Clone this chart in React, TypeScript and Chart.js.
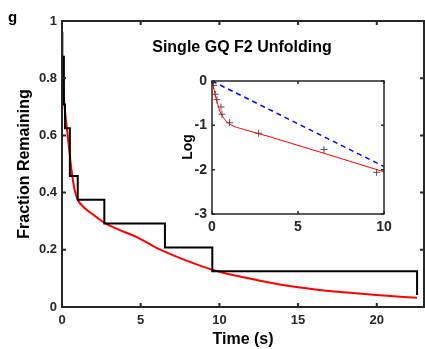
import React, { useEffect, useRef } from "react";
import { Chart, registerables } from "chart.js";

Chart.register(...registerables);

const FONT = "'Liberation Sans', Arial, Helvetica, sans-serif";
const INK = "#262626";

// ---------- main plot data ----------
const X_TICKS = [0, 5, 10, 15, 20];
const Y_TICKS = [0, 0.2, 0.4, 0.6, 0.8, 1];
const STEP_TIMES = [0, 0.02, 0.12, 0.19, 0.5, 1.0, 2.69, 6.54, 9.55, 22.56];
const STEP_VALUES = [0.958, 0.875, 0.708, 0.625, 0.458, 0.375, 0.292, 0.208, 0.125, 0.042];
const FIT_TIMES = [0, 0.05, 0.1, 0.2, 0.3, 0.44, 0.6, 0.8, 1.0, 1.4, 2.0, 2.7, 3.5, 4.85, 6.0, 7.2, 8.5, 10, 12.5, 15, 17.5, 20, 22.56];
const FIT_VALUES = [0.872, 0.81, 0.75, 0.68, 0.63, 0.56, 0.48, 0.41, 0.375, 0.348, 0.322, 0.294, 0.273, 0.242, 0.207, 0.178, 0.15, 0.123, 0.093, 0.069, 0.053, 0.042, 0.032];

// ---------- inset data ----------
const INSET_X_TICKS = [0, 5, 10];
const INSET_Y_TICKS = [0, -1, -2, -3];
const MARK_TIMES = [0.09, 0.19, 0.29, 0.52, 0.58, 1.02, 2.71, 6.51, 9.57];
const MARK_LOGS = [-0.1, -0.3, -0.42, -0.585, -0.75, -0.94, -1.18, -1.545, -2.06];
const LOGFIT_TIMES = [0, 0.13, 0.29, 0.48, 0.77, 1.16, 1.84, 3.38, 10];
const LOGFIT_VALUES = [0, -0.21, -0.47, -0.7, -0.88, -1.0, -1.09, -1.26, -2.05];
const SINGLE_TIMES = [0, 10];
const SINGLE_LOGS = [0, -1.93];

const pts = (xs: number[], ys: number[]) => xs.map((x, i) => ({ x, y: ys[i] }));

const boxPlugin = (lineWidth: number, tickLen: number, xt: number[], yt: number[], fillWhite: boolean) => ({
  id: "box",
  beforeDraw(chart: any) {
    if (!fillWhite) return;
    const { ctx, chartArea: a } = chart;
    ctx.save();
    ctx.fillStyle = "#ffffff";
    ctx.fillRect(a.left, a.top, a.right - a.left, a.bottom - a.top);
    ctx.restore();
  },
  afterDatasetsDraw(chart: any) {
    const { ctx, chartArea: a, scales } = chart;
    ctx.save();
    ctx.strokeStyle = INK;
    ctx.lineWidth = lineWidth;
    ctx.beginPath();
    for (const v of xt) {
      const p = scales.x.getPixelForValue(v);
      ctx.moveTo(p, a.bottom);
      ctx.lineTo(p, a.bottom - tickLen);
      ctx.moveTo(p, a.top);
      ctx.lineTo(p, a.top + tickLen);
    }
    for (const v of yt) {
      const p = scales.y.getPixelForValue(v);
      ctx.moveTo(a.left, p);
      ctx.lineTo(a.left + tickLen, p);
      ctx.moveTo(a.right, p);
      ctx.lineTo(a.right - tickLen, p);
    }
    ctx.stroke();
    ctx.lineJoin = "miter";
    ctx.strokeRect(a.left, a.top, a.right - a.left, a.bottom - a.top);
    ctx.restore();
  },
});

const textPlugin = (items: { text: string; x: number; y: number; font: string; rot?: boolean; align?: CanvasTextAlign }[]) => ({
  id: "texts",
  afterDraw(chart: any) {
    const ctx = chart.ctx;
    ctx.save();
    ctx.fillStyle = "#000";
    ctx.textBaseline = "middle";
    for (const it of items) {
      ctx.save();
      ctx.font = it.font;
      ctx.textAlign = it.align || "center";
      ctx.translate(it.x, it.y);
      if (it.rot) ctx.rotate(-Math.PI / 2);
      ctx.fillText(it.text, 0, 0);
      ctx.restore();
    }
    ctx.restore();
  },
});

export default function App() {
  const mainRef = useRef<HTMLCanvasElement>(null);
  const insetRef = useRef<HTMLCanvasElement>(null);

  useEffect(() => {
    const tickFont = { family: FONT, size: 13, weight: "bold" as const };
    const main = new Chart(mainRef.current!, {
      type: "line",
      data: {
        datasets: [
          {
            data: pts(STEP_TIMES, STEP_VALUES),
            stepped: true,
            borderColor: "#000000",
            borderWidth: 2,
            pointRadius: 0,
            fill: false,
          },
          {
            data: pts(FIT_TIMES, FIT_VALUES),
            borderColor: "#ff0000",
            borderWidth: 2,
            pointRadius: 0,
            fill: false,
            cubicInterpolationMode: "monotone",
          },
        ],
      },
      options: {
        responsive: false,
        animation: false,
        devicePixelRatio: 1,
        layout: { padding: { left: 0, top: 21, right: 1, bottom: 0 } },
        plugins: { legend: { display: false }, tooltip: { enabled: false } },
        scales: {
          x: {
            type: "linear",
            min: 0,
            max: 23,
            afterBuildTicks: (s: any) => {
              s.ticks = X_TICKS.map((v) => ({ value: v }));
            },
            afterFit: (s: any) => {
              s.height = 42;
            },
            grid: { display: false, drawTicks: false },
            border: { display: false },
            ticks: { padding: 6, font: tickFont, color: INK, maxRotation: 0, autoSkip: false, callback: (v: any) => String(v) },
          },
          y: {
            type: "linear",
            min: 0,
            max: 1,
            afterBuildTicks: (s: any) => {
              s.ticks = Y_TICKS.map((v) => ({ value: v }));
            },
            afterFit: (s: any) => {
              s.width = 62;
            },
            grid: { display: false, drawTicks: false },
            border: { display: false },
            ticks: { padding: 5, font: tickFont, color: INK, autoSkip: false, callback: (v: any) => String(v) },
          },
        },
      },
      plugins: [
        boxPlugin(2, 4, X_TICKS, Y_TICKS, false),
        textPlugin([
          { text: "g", x: 8, y: 18, font: `bold 15px ${FONT}`, align: "left" },
          { text: "Fraction Remaining", x: 25, y: 164, font: `bold 16px ${FONT}`, rot: true },
          { text: "Time (s)", x: 243, y: 340, font: `bold 16px ${FONT}` },
          { text: "Single GQ F2 Unfolding", x: 242, y: 48, font: `bold 16px ${FONT}` },
        ]),
      ],
    } as any);

    const insetTickFont = { family: FONT, size: 14, weight: "bold" as const };
    const inset = new Chart(insetRef.current!, {
      type: "line",
      data: {
        datasets: [
          {
            data: pts(SINGLE_TIMES, SINGLE_LOGS),
            borderColor: "#0000ff",
            borderWidth: 1.5,
            borderDash: [5, 4],
            pointRadius: 0,
            fill: false,
          },
          {
            data: pts(LOGFIT_TIMES, LOGFIT_VALUES),
            borderColor: "#ff0000",
            borderWidth: 1,
            pointRadius: 0,
            fill: false,
            cubicInterpolationMode: "monotone",
          },
          {
            data: pts(MARK_TIMES, MARK_LOGS),
            showLine: false,
            pointStyle: "cross",
            pointRadius: 3.5,
            pointBorderColor: "#555555",
            pointBorderWidth: 1,
            borderColor: "#555555",
          },
        ],
      },
      options: {
        responsive: false,
        animation: false,
        devicePixelRatio: 1,
        layout: { padding: { left: 0, top: 21, right: 16, bottom: 0 } },
        plugins: { legend: { display: false }, tooltip: { enabled: false } },
        scales: {
          x: {
            type: "linear",
            min: 0,
            max: 10,
            afterBuildTicks: (s: any) => {
              s.ticks = INSET_X_TICKS.map((v) => ({ value: v }));
            },
            afterFit: (s: any) => {
              s.height = 26;
            },
            grid: { display: false, drawTicks: false },
            border: { display: false },
            ticks: { padding: 5, font: insetTickFont, color: INK, maxRotation: 0, autoSkip: false, callback: (v: any) => String(v) },
          },
          y: {
            type: "linear",
            min: -3,
            max: 0,
            afterBuildTicks: (s: any) => {
              s.ticks = INSET_Y_TICKS.map((v) => ({ value: v }));
            },
            afterFit: (s: any) => {
              s.width = 42;
            },
            grid: { display: false, drawTicks: false },
            border: { display: false },
            ticks: { padding: 5, font: insetTickFont, color: INK, autoSkip: false, callback: (v: any) => String(v) },
          },
        },
      },
      plugins: [
        boxPlugin(1.5, 3, INSET_X_TICKS, INSET_Y_TICKS, true),
        textPlugin([{ text: "Log", x: 18, y: 87, font: `bold 14px ${FONT}`, rot: true }]),
      ],
    } as any);

    return () => {
      main.destroy();
      inset.destroy();
    };
  }, []);

  return (
    <div style={{ position: "fixed", left: 0, top: 0, width: 425, height: 349, background: "#fff" }}>
      <canvas ref={mainRef} width={425} height={349} style={{ position: "absolute", left: 0, top: 0, width: 425, height: 349 }} />
      <canvas ref={insetRef} width={230} height={180} style={{ position: "absolute", left: 170, top: 60, width: 230, height: 180 }} />
    </div>
  );
}
